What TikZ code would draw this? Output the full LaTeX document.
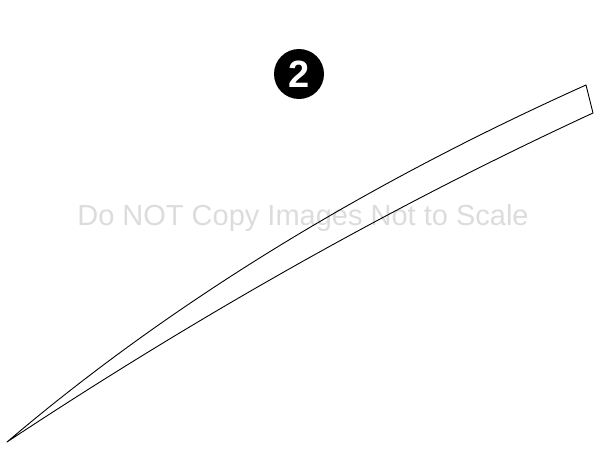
\documentclass[tikz,border=0pt]{standalone}
\usepackage{fontspec}
\setmainfont{Liberation Sans}
\usetikzlibrary{positioning}
\definecolor{stampgray}{HTML}{DCDCDC}
\tikzstyle{badge} = [circle, fill=black, text=white, minimum size=50pt, inner sep=0pt, font=\fontsize{38}{40}\bfseries\selectfont]
\tikzstyle{stamp} = [text=stampgray, inner sep=0pt, font=\fontsize{29}{31}\selectfont]
\tikzstyle{outline} = [draw=black, line width=0.9pt, line join=round]

\begin{document}
\begin{tikzpicture}[x=1pt, y=-1pt]
        \useasboundingbox (0,0) rectangle (600,450);
        \node [badge] (num) at (299,74) {2};
        \node [stamp] (note) at (303,218) {Do NOT Copy Images Not to Scale};

        \coordinate (tip) at (7,442);
        \coordinate (top) at (586,85);
        \coordinate (low) at (593,113);
        \draw [outline] (tip) .. controls (168,305) and (361,186) .. (top)
            -- (low) .. controls (398,203) and (202,313) .. (tip) -- cycle;
    \end{tikzpicture}
\end{document}
